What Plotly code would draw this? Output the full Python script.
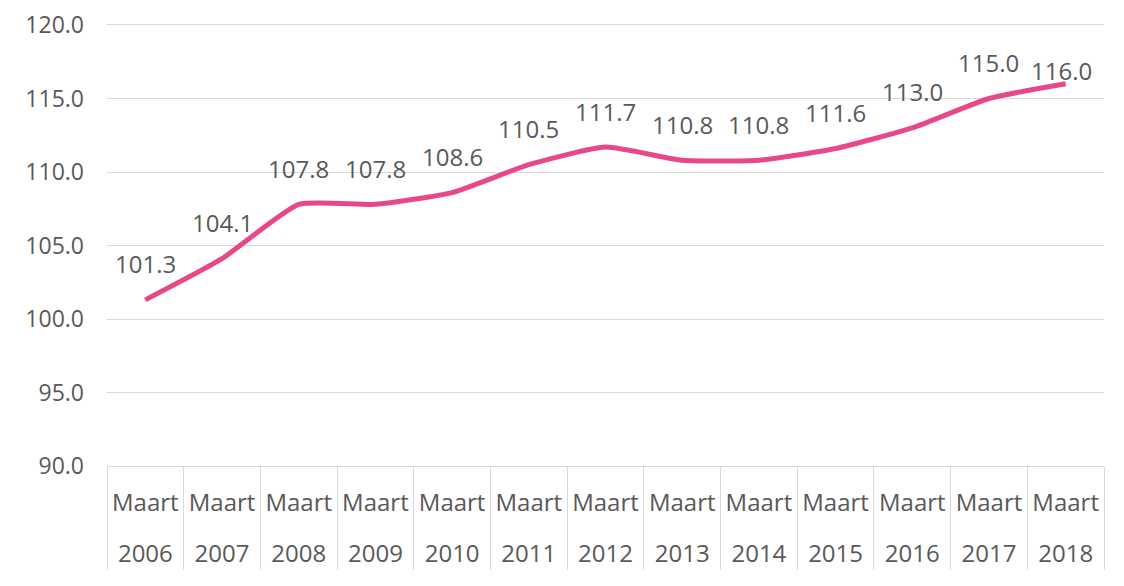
import plotly.graph_objects as go

years = ["2006", "2007", "2008", "2009", "2010", "2011", "2012",
         "2013", "2014", "2015", "2016", "2017", "2018"]
months = ["Maart"] * len(years)
values = [101.3, 104.1, 107.8, 107.8, 108.6, 110.5, 111.7,
          110.8, 110.8, 111.6, 113.0, 115.0, 116.0]
label_shift = [36, 36, 36, 36, 36, 36, 36, 36, 36, 36, 36, 36, 13]
label_xshift = [0, 0, 0, 0, 0, 0, 0, 0, 0, 0, 0, 0, -4]

grey_text = "#595959"
grid = "#D9D9D9"
pink = "#E8488A"
font_family = "Open Sans, Segoe UI, sans-serif"
fsize = 24

fig = go.Figure()
fig.add_trace(go.Scatter(
    x=[["<br>" + y for y in years], months],
    y=values,
    mode="lines",
    line=dict(color=pink, width=5, shape="spline", smoothing=0.5),
    hoverinfo="y",
))

for i, (v, s, xs) in enumerate(zip(values, label_shift, label_xshift)):
    fig.add_annotation(
        x=i, y=v, text=f"{v:.1f}", showarrow=False, yshift=s, xshift=xs,
        font=dict(size=fsize, color=grey_text, family=font_family),
    )

fig.update_xaxes(
    type="multicategory",
    range=[-0.5, len(years) - 0.5],
    showline=True, linecolor=grid, linewidth=1, mirror=True,
    showgrid=False,
    showdividers=True, dividercolor=grid, dividerwidth=1,
    tickfont=dict(size=fsize, color=grey_text, family=font_family),
    ticklabelstandoff=15,
    automargin=False,
)
fig.update_yaxes(
    range=[90, 120], tickvals=[90, 95, 100, 105, 110, 115, 120],
    tickformat=".1f",
    showgrid=True, gridcolor=grid, gridwidth=1,
    zeroline=False,
    tickfont=dict(size=23, color=grey_text, family=font_family),
    ticklabelstandoff=22,
    ticklabeloverflow="allow",
    automargin=False,
)
# page body has an 8px margin, so the figure is sized and placed to compensate
fig.update_layout(
    width=1108, height=570,
    margin=dict(l=99, r=12, t=17, b=112),
    plot_bgcolor="white", paper_bgcolor="white",
    showlegend=False,
)

fig.write_html("out.html")
